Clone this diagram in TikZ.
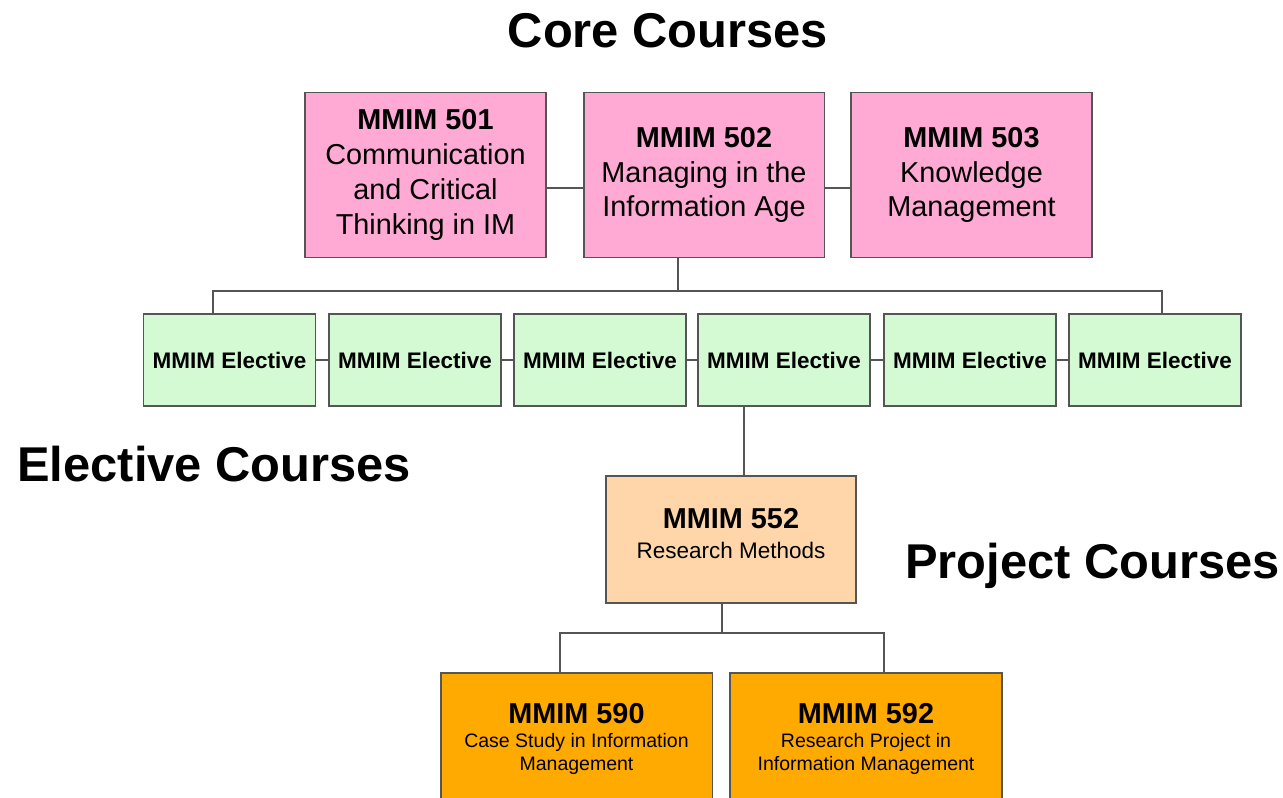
\documentclass[tikz,border=0pt]{standalone}
\usepackage{fontspec}
\setmainfont{Liberation Sans}
\usetikzlibrary{calc,positioning}
\definecolor{corepink}{RGB}{255,170,212}
\definecolor{electgreen}{RGB}{212,250,212}
\definecolor{methpeach}{RGB}{255,214,170}
\definecolor{projorange}{RGB}{255,170,0}
\definecolor{edgegray}{RGB}{85,85,85}
\tikzset{
  coursebox/.style={draw=edgegray,line width=1.1pt,align=center,inner sep=2pt},
  corebox/.style={coursebox,fill=corepink,minimum width=4.82cm,minimum height=3.3cm,
    font=\fontsize{16.4}{19.8}\selectfont},
  electbox/.style={coursebox,fill=electgreen,minimum width=3.44cm,minimum height=1.84cm,
    font=\fontsize{12.8}{15}\selectfont\bfseries},
  methbox/.style={coursebox,fill=methpeach,minimum width=5cm,minimum height=2.54cm,text depth=7pt,
    font=\fontsize{12.8}{17}\selectfont},
  projbox/.style={coursebox,fill=projorange,minimum width=5.44cm,minimum height=2.64cm,
    font=\fontsize{11.1}{13.6}\selectfont},
  link/.style={draw=edgegray,line width=1.1pt},
  heading/.style={font=\fontsize{27.8}{32}\selectfont\bfseries,inner sep=0pt}
}
\newcommand{\cnum}[1]{{\bfseries\fontsize{16.4}{19.8}\selectfont #1}}

\begin{document}
\begin{tikzpicture}[x=0.02cm,y=-0.02cm]
  \useasboundingbox (0,0) rectangle (1283,797);
  \clip (0,0) rectangle (1283,797);

  % Core
  \node[heading,anchor=base] at (668,48) (corehead){Core Courses};
  \node[corebox] at (425.5,175) (c501){\cnum{MMIM 501}\\Communication\\and Critical\\Thinking in IM};
  \node[corebox] at (704,175) (c502){\cnum{MMIM 502}\\Managing in the\\Information Age};
  \node[corebox] at (971.5,175) (c503){\cnum{MMIM 503}\\Knowledge\\Management};
  \draw[link] ($(c501.east)+(0,13)$) -- ($(c502.west)+(0,13)$);
  \draw[link] ($(c502.east)+(0,13)$) -- ($(c503.west)+(0,13)$);

  % Electives
  \node[heading,anchor=base west] at (17,481) (electhead){Elective Courses};
  \foreach \x [count=\i] in {229.5,415,600,784,970,1155}
  {
    \node[electbox] at (\x,360) (e\i){MMIM Elective};
  }
  \foreach \a/\b in {1/2,2/3,3/4,4/5,5/6}
    \draw[link] (e\a) -- (e\b);
  \coordinate (corebar) at (678,291);
  \draw[link] (c502.south -| corebar) -- (corebar);
  \draw[link] ($(e1.north)+(-16.5,0)$) |- (corebar) -| ($(e6.north)+(7,0)$);

  % Project
  \node[heading,anchor=base west] at (905,578) (projhead){Project Courses};
  \node[methbox] at (731,539.5) (m552){\cnum{MMIM 552}\\Research Methods};
  \draw[link] ($(e4.south)+(-40,0)$) -- ($(m552.north)+(13,0)$);
  \node[projbox] at (576.5,739) (p590){\cnum{MMIM 590}\\Case Study in Information\\Management};
  \node[projbox] at (866,739) (p592){\cnum{MMIM 592}\\Research Project in\\Information Management};
  \coordinate (projbar) at (722,633);
  \draw[link] (m552.south -| projbar) -- (projbar);
  \draw[link] ($(p590.north)+(-16.5,0)$) |- (projbar) -| ($(p592.north)+(18,0)$);
\end{tikzpicture}
\end{document}
